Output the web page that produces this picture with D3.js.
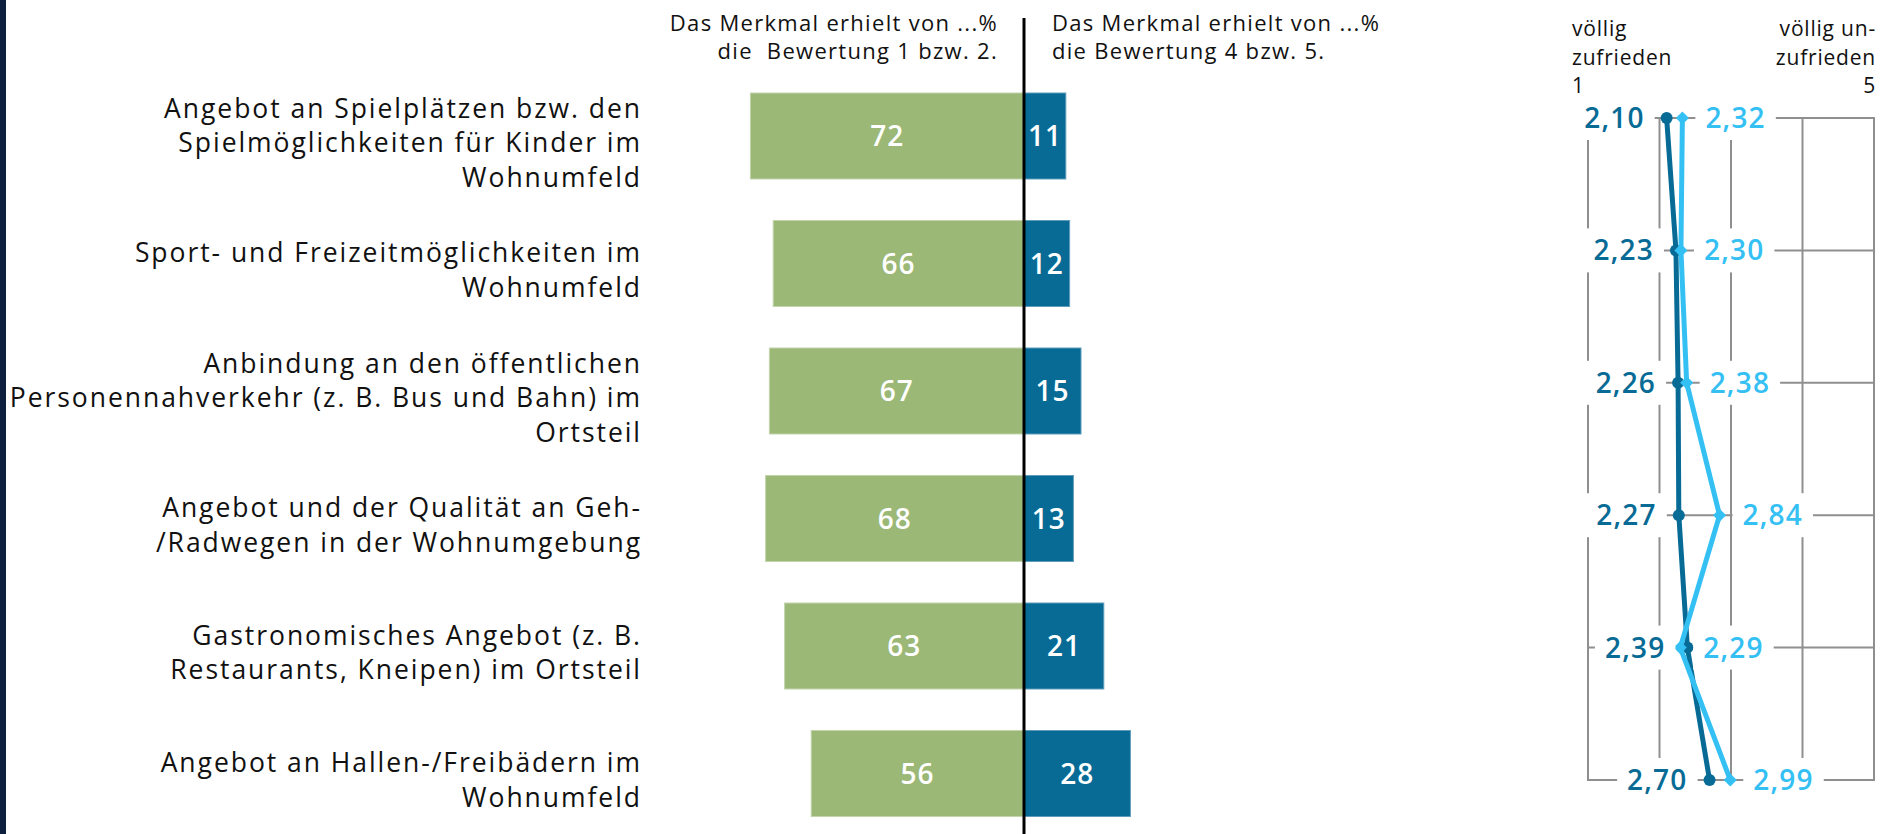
<!DOCTYPE html>
<html>
<head>
<meta charset="utf-8">
<script src="https://cdn.jsdelivr.net/npm/d3@7"></script>
<style>
  html, body { margin: 0; padding: 0; background: #fff; }
  svg { display: block; font-family: "Open Sans", sans-serif; }
</style>
</head>
<body>
<div id="chart"></div>
<script>
// Data
var categories = [
  ["Angebot an Spielplätzen bzw. den", "Spielmöglichkeiten für Kinder im", "Wohnumfeld"],
  ["Sport- und Freizeitmöglichkeiten im", "Wohnumfeld"],
  ["Anbindung an den öffentlichen", "Personennahverkehr (z. B. Bus und Bahn) im", "Ortsteil"],
  ["Angebot und der Qualität an Geh-", "/Radwegen in der Wohnumgebung"],
  ["Gastronomisches Angebot (z. B.", "Restaurants, Kneipen) im Ortsteil"],
  ["Angebot an Hallen-/Freibädern im", "Wohnumfeld"]
];
var good = [72, 66, 67, 68, 63, 56];     // Bewertung 1 bzw. 2
var bad = [11, 12, 15, 13, 21, 28];      // Bewertung 4 bzw. 5
var meanDark = [2.10, 2.23, 2.26, 2.27, 2.39, 2.70];
var meanLight = [2.32, 2.30, 2.38, 2.84, 2.29, 2.99];
var scaleTicks = [1, 2, 3, 4, 5];
var headLeft = ["Das Merkmal erhielt von ...%", "die  Bewertung 1 bzw. 2."];
var headRight = ["Das Merkmal erhielt von ...%", "die Bewertung 4 bzw. 5."];

var W = 1881, H = 834;
var green = "#9bb876", blue = "#076b96", light = "#35c0f4", grid = "#8f8f8f";

var svg = d3.select("#chart").append("svg")
  .attr("width", W)
  .attr("height", H);

// dark strip at the left edge
svg.append("rect").attr("x", 0).attr("y", 0).attr("width", 6).attr("height", H).attr("fill", "#0c1f3d");

var idx = d3.range(categories.length);

// bar chart part
var yScale = d3.scaleBand().domain(idx).range([72.25, 837.25])
  .paddingInner(0.3255).paddingOuter(0.16275);
var xScale = d3.scaleLinear().domain([-100, 100]).range([1024 - 380, 1024 + 380]);

var bars = svg.append("g");
bars.selectAll("rect.good").data(idx).enter().append("rect")
  .attr("class", "good")
  .attr("x", function(i){ return xScale(-good[i]); })
  .attr("y", function(i){ return yScale(i); })
  .attr("width", function(i){ return xScale(0) - xScale(-good[i]); })
  .attr("height", yScale.bandwidth())
  .attr("fill", green)
  .attr("stroke", "#c3d4ad").attr("stroke-width", 1);

bars.selectAll("rect.bad").data(idx).enter().append("rect")
  .attr("class", "bad")
  .attr("x", xScale(0))
  .attr("y", function(i){ return yScale(i); })
  .attr("width", function(i){ return xScale(bad[i]) - xScale(0); })
  .attr("height", yScale.bandwidth())
  .attr("fill", blue)
  .attr("stroke", "#5f9cbb").attr("stroke-width", 1);

bars.selectAll("text.good").data(idx).enter().append("text")
  .attr("x", function(i){ return (xScale(-good[i]) + xScale(0)) / 2; })
  .attr("y", function(i){ return yScale(i) + yScale.bandwidth() / 2; })
  .attr("dy", "0.36em")
  .attr("text-anchor", "middle")
  .attr("fill", "#fff").attr("font-size", 28).attr("font-weight", 600).attr("letter-spacing", 1)
  .text(function(i){ return good[i]; });

bars.selectAll("text.bad").data(idx).enter().append("text")
  .attr("x", function(i){ return (xScale(bad[i]) + xScale(0)) / 2; })
  .attr("y", function(i){ return yScale(i) + yScale.bandwidth() / 2; })
  .attr("dy", "0.36em")
  .attr("text-anchor", "middle")
  .attr("fill", "#fff").attr("font-size", 28).attr("font-weight", 600).attr("letter-spacing", 1)
  .text(function(i){ return bad[i]; });

// centre line
svg.append("line")
  .attr("x1", xScale(0)).attr("x2", xScale(0))
  .attr("y1", 18).attr("y2", H)
  .attr("stroke", "#000").attr("stroke-width", 3);

// category labels
var lineH = 34.5;
svg.append("g").selectAll("text").data(idx).enter().append("text")
  .attr("text-anchor", "end")
  .attr("font-size", 26.5)
  .attr("letter-spacing", 1.95)
  .attr("fill", "#111")
  .each(function(i){
    var lines = categories[i];
    var c = yScale(i) + yScale.bandwidth() / 2 + 16;
    d3.select(this).selectAll("tspan").data(lines).enter().append("tspan")
      .attr("x", 642)
      .attr("y", function(d, k){ return c + (k - (lines.length - 1) / 2) * lineH; })
      .text(function(d){ return d; });
  });

// headers
svg.append("text").attr("text-anchor", "end").attr("font-size", 22).attr("fill", "#111")
  .attr("letter-spacing", 1.3)
  .selectAll("tspan").data(headLeft).enter().append("tspan")
  .attr("x", 998).attr("y", function(d, k){ return 31 + k * 28; })
  .style("white-space", "pre")
  .text(function(d){ return d; });

svg.append("text").attr("text-anchor", "start").attr("font-size", 22).attr("fill", "#111")
  .attr("letter-spacing", 1.3)
  .selectAll("tspan").data(headRight).enter().append("tspan")
  .attr("x", 1052).attr("y", function(d, k){ return 31 + k * 28; })
  .text(function(d){ return d; });

// mean value panel
var mx = d3.scaleLinear().domain([1, 5]).range([1588, 1874]);
var my = d3.scalePoint().domain(idx).range([118, 780]);

var panel = svg.append("g");
panel.selectAll("line.v").data(scaleTicks).enter().append("line")
  .attr("x1", function(d){ return mx(d); }).attr("x2", function(d){ return mx(d); })
  .attr("y1", my(0)).attr("y2", my(idx.length - 1))
  .attr("stroke", grid).attr("stroke-width", 2);
panel.selectAll("line.h").data(idx).enter().append("line")
  .attr("x1", mx(1) - 1).attr("x2", mx(5) + 1)
  .attr("y1", function(i){ return my(i); }).attr("y2", function(i){ return my(i); })
  .attr("stroke", grid).attr("stroke-width", 2);

// scale end labels
var endStyle = function(sel){ sel.attr("font-size", 21).attr("fill", "#111").attr("letter-spacing", 0.8); };
svg.append("text").call(endStyle).attr("text-anchor", "start")
  .selectAll("tspan").data(["völlig", "zufrieden", "1"]).enter().append("tspan")
  .attr("x", 1572).attr("y", function(d, k){ return 36 + k * 28.5; })
  .text(function(d){ return d; });
svg.append("text").call(endStyle).attr("text-anchor", "end")
  .selectAll("tspan").data(["völlig un-", "zufrieden", "5"]).enter().append("tspan")
  .attr("x", 1876).attr("y", function(d, k){ return 36 + k * 28.5; })
  .text(function(d){ return d; });

function fmt(v){ return d3.format(".2f")(v).replace(".", ","); }

// value labels with white backing
var darkLab = panel.selectAll("g.dl").data(idx).enter().append("g");
darkLab.append("text")
  .attr("x", function(i){ return mx(meanDark[i]) - 22; })
  .attr("y", function(i){ return my(i); })
  .attr("dy", "0.36em").attr("text-anchor", "end")
  .attr("font-size", 28).attr("font-weight", 600).attr("letter-spacing", 1.2).attr("fill", blue)
  .text(function(i){ return fmt(meanDark[i]); });

var lightLab = panel.selectAll("g.ll").data(idx).enter().append("g");
lightLab.append("text")
  .attr("x", function(i){ return mx(meanLight[i]) + 23; })
  .attr("y", function(i){ return my(i); })
  .attr("dy", "0.36em").attr("text-anchor", "start")
  .attr("font-size", 28).attr("font-weight", 600).attr("letter-spacing", 1.2).attr("fill", light)
  .text(function(i){ return fmt(meanLight[i]); });

[darkLab, lightLab].forEach(function(g){
  g.each(function(){
    var t = d3.select(this).select("text");
    var bb = t.node().getBBox();
    d3.select(this).insert("rect", "text")
      .attr("x", bb.x - 10).attr("y", my(d3.select(this).datum()) - 22)
      .attr("width", bb.width + 20).attr("height", 44)
      .attr("fill", "#fff");
  });
});

// lines and markers
var lineDark = d3.line().x(function(i){ return mx(meanDark[i]); }).y(function(i){ return my(i); });
var lineLight = d3.line().x(function(i){ return mx(meanLight[i]); }).y(function(i){ return my(i); });

panel.append("path").attr("d", lineDark(idx)).attr("fill", "none")
  .attr("stroke", blue).attr("stroke-width", 5).attr("stroke-linejoin", "round");
panel.selectAll("circle.d").data(idx).enter().append("circle")
  .attr("cx", function(i){ return mx(meanDark[i]); })
  .attr("cy", function(i){ return my(i); })
  .attr("r", 6).attr("fill", blue);

panel.append("path").attr("d", lineLight(idx)).attr("fill", "none")
  .attr("stroke", light).attr("stroke-width", 5).attr("stroke-linejoin", "round");
panel.selectAll("path.m").data(idx).enter().append("path")
  .attr("d", d3.symbol().type(d3.symbolDiamond2).size(110))
  .attr("transform", function(i){ return "translate(" + mx(meanLight[i]) + "," + my(i) + ")"; })
  .attr("fill", light);

// move labels above the lines
darkLab.raise();
lightLab.raise();
</script>
</body>
</html>
